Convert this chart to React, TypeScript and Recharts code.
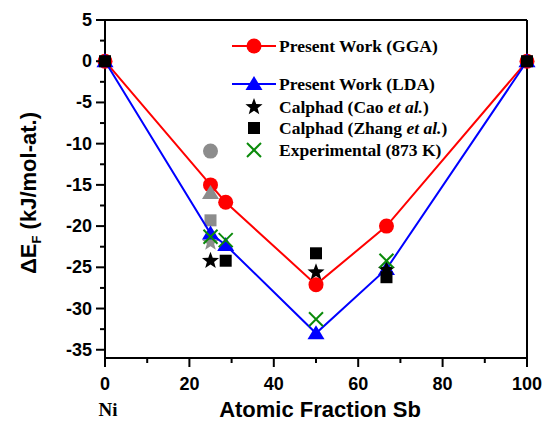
import { ScatterChart, Scatter, XAxis, YAxis } from "recharts";

// composition in at.% Sb
const compositions = [0, 25, 28.6, 50, 66.7, 100];
const ggaValues = [0, -15, -17.1, -27.1, -20, 0];
const ldaValues = [0, -20.9, -22.3, -33, -25.2, 0];

const caoX = [25, 50, 66.7];
const caoValues = [-24.2, -25.6, -25.3];

const zhangX = [0, 28.6, 50, 66.7, 100];
const zhangValues = [0, -24.2, -23.3, -26.2, 0];

const expX = [25, 28.6, 50, 66.7];
const expValues = [-21.3, -21.7, -31.3, -24.2];

// grey (other literature) points at Ni3Sb
const greyCircle = [{ x: 25, y: -10.9 }];
const greyTriangle = [{ x: 25, y: -16 }];
const greySquare = [{ x: 25, y: -19.3 }];
const greyStar = [{ x: 25, y: -22 }];

const xTicks = [0, 10, 20, 30, 40, 50, 60, 70, 80, 90, 100];
const yTicks = [5, 2.5, 0, -2.5, -5, -7.5, -10, -12.5, -15, -17.5, -20, -22.5, -25, -27.5, -30, -32.5, -35];

const zip = (xs: number[], ys: number[]) => xs.map((x, i) => ({ x, y: ys[i] }));

const gga = zip(compositions, ggaValues);
const lda = zip(compositions, ldaValues);
const cao = zip(caoX, caoValues);
const zhang = zip(zhangX, zhangValues);
const exp = zip(expX, expValues);

const RED = "#ff0000";
const BLUE = "#0000ff";
const GREEN = "#0a8a0a";
const GREY = "#8c8c8c";
const SANS = "'Liberation Sans', Arial, sans-serif";
const SERIF = "'Liberation Serif', 'Times New Roman', serif";

function starPoints(cx: number, cy: number, r: number) {
  const pts: string[] = [];
  for (let i = 0; i < 10; i++) {
    const rad = i % 2 === 0 ? r : r * 0.42;
    const a = -Math.PI / 2 + (i * Math.PI) / 5;
    pts.push(`${cx + rad * Math.cos(a)},${cy + rad * Math.sin(a)}`);
  }
  return pts.join(" ");
}

const circleShape = (color: string) => (p: any) => <circle cx={p.cx} cy={p.cy} r={7.5} fill={color} />;
const triangleShape = (color: string) => (p: any) => (
  <polygon points={`${p.cx},${p.cy - 8} ${p.cx - 8.5},${p.cy + 6} ${p.cx + 8.5},${p.cy + 6}`} fill={color} />
);
const squareShape = (color: string) => (p: any) => (
  <rect x={p.cx - 6} y={p.cy - 6} width={12} height={12} fill={color} />
);
const starShape = (color: string) => (p: any) => <polygon points={starPoints(p.cx, p.cy, 9)} fill={color} />;
const xShape = (p: any) => (
  <g stroke={GREEN} strokeWidth={2}>
    <line x1={p.cx - 7} y1={p.cy - 7} x2={p.cx + 7} y2={p.cy + 7} />
    <line x1={p.cx - 7} y1={p.cy + 7} x2={p.cx + 7} y2={p.cy - 7} />
  </g>
);

const BottomTick = (props: any) => {
  const { x, y, payload } = props;
  const major = payload.value % 20 === 0;
  return (
    <g>
      <line x1={x} x2={x} y1={y} y2={y + (major ? 9 : 5)} stroke="#000" strokeWidth={2} />
      {major && (
        <text x={x} y={y + 32} textAnchor="middle" fontFamily={SANS} fontWeight="bold" fontSize={18} fill="#000">
          {payload.value}
        </text>
      )}
    </g>
  );
};

const TopTick = (props: any) => {
  const { x, y, payload } = props;
  const major = payload.value % 20 === 0;
  return <line x1={x} x2={x} y1={y} y2={y + (major ? 8 : 5)} stroke="#000" strokeWidth={2} />;
};

const LeftTick = (props: any) => {
  const { x, y, payload } = props;
  const major = payload.value % 5 === 0;
  return (
    <g>
      <line x1={x} x2={x - (major ? 9 : 5)} y1={y} y2={y} stroke="#000" strokeWidth={2} />
      {major && (
        <text x={x - 13} y={y + 6} textAnchor="end" fontFamily={SANS} fontWeight="bold" fontSize={18} fill="#000">
          {payload.value}
        </text>
      )}
    </g>
  );
};

const RightTick = (props: any) => {
  const { x, y, payload } = props;
  const major = payload.value % 5 === 0;
  return <line x1={x} x2={x - (major ? 8 : 5)} y1={y} y2={y} stroke="#000" strokeWidth={2} />;
};

const legendText = { fontFamily: SERIF, fontWeight: "bold" as const, fontSize: 17.5, color: "#000" };

function LegendRow({ top, marker, children }: { top: number; marker: React.ReactNode; children: React.ReactNode }) {
  return (
    <div style={{ position: "absolute", left: 230, top: top - 12, height: 24, display: "flex", alignItems: "center" }}>
      <svg width={48} height={24}>{marker}</svg>
      <span style={{ ...legendText, marginLeft: 1, whiteSpace: "nowrap" }}>{children}</span>
    </div>
  );
}

export default function App() {
  return (
    <div style={{ position: "absolute", left: 0, top: 0, width: 542, height: 429, background: "#fff", overflow: "hidden" }}>
      <ScatterChart width={542} height={429} margin={{ top: 19, right: 14, bottom: 31, left: 35 }}>
        <XAxis
          xAxisId="bottom"
          dataKey="x"
          type="number"
          domain={[0, 100]}
          ticks={xTicks}
          interval={0}
          height={40}
          tickSize={0}
          tickMargin={0}
          tick={<BottomTick />}
          axisLine={{ stroke: "#000", strokeWidth: 2 }}
        />
        <XAxis
          xAxisId="top"
          orientation="top"
          dataKey="x"
          type="number"
          domain={[0, 100]}
          ticks={xTicks}
          interval={0}
          height={1}
          tickSize={0}
          tickMargin={0}
          tick={<TopTick />}
          axisLine={{ stroke: "#000", strokeWidth: 2 }}
        />
        <YAxis
          yAxisId="left"
          dataKey="y"
          type="number"
          domain={[-36, 5]}
          ticks={yTicks}
          interval={0}
          width={70}
          tickSize={0}
          tickMargin={0}
          tick={<LeftTick />}
          axisLine={{ stroke: "#000", strokeWidth: 2 }}
        />
        <YAxis
          yAxisId="right"
          orientation="right"
          dataKey="y"
          type="number"
          domain={[-36, 5]}
          ticks={yTicks}
          interval={0}
          width={1}
          tickSize={0}
          tickMargin={0}
          tick={<RightTick />}
          axisLine={{ stroke: "#000", strokeWidth: 2 }}
        />
        <Scatter xAxisId="bottom" yAxisId="left" data={greyCircle} shape={circleShape(GREY)} isAnimationActive={false} />
        <Scatter xAxisId="bottom" yAxisId="left" data={greySquare} shape={squareShape(GREY)} isAnimationActive={false} />
        <Scatter xAxisId="bottom" yAxisId="left" data={greyStar} shape={starShape(GREY)} isAnimationActive={false} />
        <Scatter
          xAxisId="bottom"
          yAxisId="left"
          data={gga}
          line={{ stroke: RED, strokeWidth: 2 }}
          lineType="joint"
          shape={circleShape(RED)}
          isAnimationActive={false}
        />
        <Scatter xAxisId="bottom" yAxisId="left" data={greyTriangle} shape={triangleShape(GREY)} isAnimationActive={false} />
        <Scatter
          xAxisId="bottom"
          yAxisId="left"
          data={lda}
          line={{ stroke: BLUE, strokeWidth: 2 }}
          lineType="joint"
          shape={triangleShape(BLUE)}
          isAnimationActive={false}
        />
        <Scatter xAxisId="bottom" yAxisId="left" data={cao} shape={starShape("#000")} isAnimationActive={false} />
        <Scatter xAxisId="bottom" yAxisId="left" data={zhang} shape={squareShape("#000")} isAnimationActive={false} />
        <Scatter xAxisId="bottom" yAxisId="left" data={exp} shape={xShape} isAnimationActive={false} />
      </ScatterChart>

      <div
        style={{
          position: "absolute",
          left: 30,
          top: 193,
          transform: "translate(-50%, -50%) rotate(-90deg)",
          whiteSpace: "nowrap",
          fontFamily: SANS,
          fontWeight: "bold",
          fontSize: 22,
        }}
      >
        ΔE<sub style={{ fontSize: 13 }}>F</sub> (kJ/mol-at.)
      </div>
      <div
        style={{
          position: "absolute",
          left: 320,
          top: 410,
          transform: "translate(-50%, -50%)",
          whiteSpace: "nowrap",
          fontFamily: SANS,
          fontWeight: "bold",
          fontSize: 22,
        }}
      >
        Atomic Fraction Sb
      </div>
      <div
        style={{
          position: "absolute",
          left: 108,
          top: 410,
          transform: "translate(-50%, -50%)",
          fontFamily: SERIF,
          fontWeight: "bold",
          fontSize: 19,
        }}
      >
        Ni
      </div>

      <LegendRow
        top={46}
        marker={
          <g>
            <line x1={2} x2={46} y1={12} y2={12} stroke={RED} strokeWidth={2} />
            <circle cx={24} cy={12} r={7.5} fill={RED} />
          </g>
        }
      >
        Present Work (GGA)
      </LegendRow>
      <LegendRow
        top={84}
        marker={
          <g>
            <line x1={2} x2={46} y1={12} y2={12} stroke={BLUE} strokeWidth={2} />
            <polygon points="24,4 15.5,18 32.5,18" fill={BLUE} />
          </g>
        }
      >
        Present Work (LDA)
      </LegendRow>
      <LegendRow top={107} marker={<polygon points={starPoints(24, 12, 9)} fill="#000" />}>
        Calphad (Cao <i>et al.</i>)
      </LegendRow>
      <LegendRow top={128} marker={<rect x={18} y={6} width={12} height={12} fill="#000" />}>
        Calphad (Zhang <i>et al.</i>)
      </LegendRow>
      <LegendRow
        top={150}
        marker={
          <g stroke={GREEN} strokeWidth={2}>
            <line x1={17} y1={5} x2={31} y2={19} />
            <line x1={17} y1={19} x2={31} y2={5} />
          </g>
        }
      >
        Experimental (873 K)
      </LegendRow>
    </div>
  );
}
